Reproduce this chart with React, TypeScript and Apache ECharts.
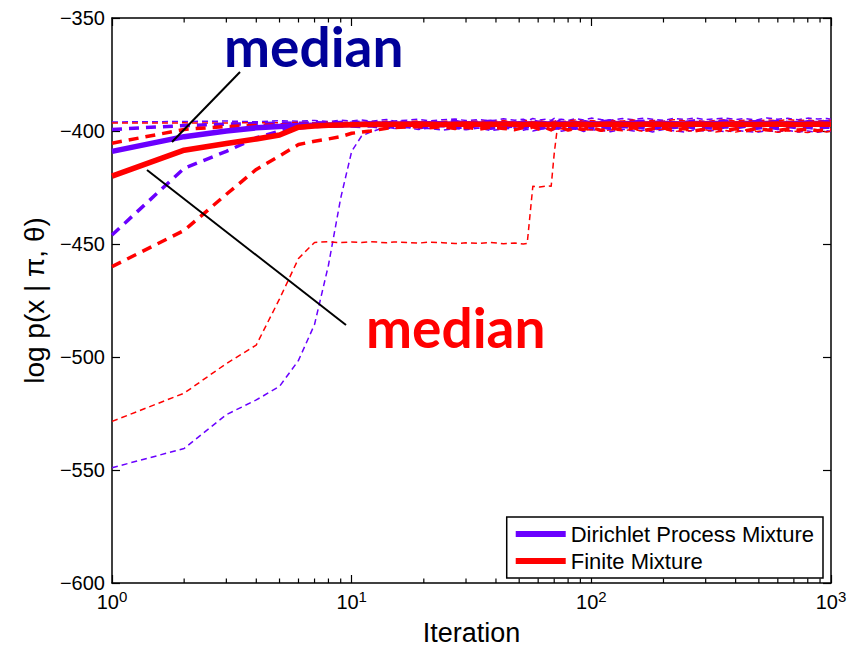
import React, { useEffect, useRef } from "react";
import * as echarts from "echarts";

// Iteration grid shared by every series (log-scaled x axis)
const iterations = [
  1, 2, 3, 4, 5, 6, 7, 8, 9, 10,
  11, 12, 13, 14, 15, 17, 19, 21, 24, 27,
  30, 34, 38, 43, 48, 52, 54, 57, 61, 65,
  68, 70, 72, 75, 80, 86, 93, 100, 110, 120,
  135, 150, 165, 180, 200, 220, 245, 270, 300, 330,
  365, 400, 440, 490, 540, 600, 660, 730, 800, 880,
  960, 1000,
];

// Dirichlet Process Mixture (purple)
const dpmMedian = [
  -409, -402.5, -400, -398.6, -398, -397.6, -397.4, -397.3, -397.2, -397.1,
  -397, -397, -396.9, -397, -396.9, -397, -396.9, -396.8, -397, -396.9,
  -396.8, -396.9, -397, -396.8, -396.9, -396.8, -396.9, -396.8, -396.7, -396.9,
  -396.8, -396.9, -396.8, -396.7, -396.9, -396.8, -396.7, -396.8, -396.9, -396.7,
  -396.8, -396.7, -396.9, -396.8, -396.7, -396.8, -396.9, -396.7, -396.8, -396.7,
  -396.8, -396.9, -396.7, -396.8, -396.7, -396.8, -396.9, -396.7, -396.8, -396.7,
  -396.8, -396.8,
];
const dpmLower = [
  -446, -416.5, -409, -403, -400, -398.7, -398, -397.8, -397.7, -397.8,
  -398.1, -397.7, -398.3, -397.9, -398.4, -397.8, -398.6, -398, -397.6, -398.5,
  -398.2, -397.7, -398.8, -398.1, -397.9, -398.6, -398.2, -397.8, -398.9, -398.1,
  -397.6, -398.4, -398.7, -397.9, -398.3, -398.8, -397.8, -398.5, -398.1, -398.9,
  -397.9, -398.6, -398.2, -399, -398, -398.5, -397.8, -398.7, -398.3, -399,
  -398.1, -398.6, -397.9, -398.8, -398.2, -398.9, -398, -398.6, -398.4, -398.9,
  -398.2, -398.5,
];
const dpmUpper = [
  -399.3, -397.6, -397, -396.7, -396.5, -396.6, -396.3, -396.5, -396.2, -396.6,
  -396, -396.5, -396.1, -396.7, -395.9, -396.4, -396.8, -396, -396.5, -395.8,
  -396.6, -396.1, -395.7, -396.4, -396.9, -396, -396.5, -395.6, -396.3, -396.8,
  -395.9, -396.4, -396.1, -395.6, -396.7, -396.2, -395.8, -396.5, -396, -395.5,
  -396.6, -396.1, -395.7, -396.4, -395.9, -396.8, -396.2, -395.6, -396.5, -396,
  -395.6, -396.3, -396.7, -395.8, -396.4, -395.7, -396.2, -396.8, -395.9, -396.3,
  -395.8, -396.1,
];
const dpmMin = [
  -549, -540.5, -525.5, -519, -513, -501.5, -485.6, -459.4, -429.7, -409,
  -402.2, -400.5, -399.2, -398.7, -398.9, -398.5, -399.3, -398.8, -399.6, -398.9,
  -399.4, -398.7, -399.8, -399.1, -398.6, -399.7, -399.2, -400, -399.3, -398.8,
  -399.9, -399.4, -398.9, -400.1, -399.5, -398.9, -400.2, -399.4, -399.8, -400.3,
  -399.2, -400, -399.6, -400.4, -399.3, -399.9, -400.5, -399.5, -400.1, -399.7,
  -400.4, -399.6, -400.2, -400.6, -399.8, -400.3, -399.7, -400.5, -400, -400.6,
  -399.9, -400.2,
];
const dpmMax = [
  -396, -395.8, -395.6, -395.9, -395.4, -395.7, -395.3, -395.8, -395.2, -395.6,
  -395.1, -395.7, -395.3, -394.9, -395.6, -395.2, -394.8, -395.5, -395, -394.7,
  -395.4, -394.9, -395.6, -394.6, -395.2, -394.8, -395.5, -394.5, -395.1, -394.7,
  -395.3, -394.4, -395, -394.8, -395.4, -394.5, -395.1, -394.3, -394.9, -395.2,
  -394.5, -395, -394.3, -394.8, -395.3, -394.4, -394.9, -394.2, -395, -394.6,
  -394.3, -394.9, -394.5, -395.1, -394.2, -394.8, -394.4, -395, -394.3, -394.7,
  -394.5, -394.8,
];

// Finite Mixture (red)
const finMedian = [
  -420, -408.5, -405.5, -403.5, -401.8, -398.3, -397.8, -397.5, -397.3, -397.2,
  -397.1, -397.1, -397, -397.1, -397, -397, -396.9, -397, -397.1, -397,
  -396.9, -397, -397.1, -396.9, -397, -397.1, -397, -396.9, -397, -397.1,
  -397, -396.9, -397, -397.1, -397, -396.9, -397, -397.1, -397, -396.9,
  -397, -397.1, -397, -396.9, -397, -397.1, -397, -396.9, -397, -397.1,
  -397, -396.9, -397, -397.1, -397, -396.9, -397, -397.1, -397, -396.9,
  -397, -397,
];
const finLower = [
  -460, -444, -428, -417, -411, -406, -404.5, -403.5, -402.5, -401,
  -400.5, -400, -399.4, -398.8, -398.5, -398.2, -398, -398.6, -398.1, -398.9,
  -398.4, -399.2, -398.3, -398.9, -399.4, -398.5, -399, -398.2, -399.3, -398.7,
  -399.5, -398.6, -399.1, -398.4, -399.6, -398.8, -399.2, -398.5, -399.7, -398.9,
  -399.3, -398.6, -399.8, -399, -398.7, -399.5, -398.9, -399.9, -399.1, -398.8,
  -399.6, -399, -399.9, -398.9, -399.4, -399.8, -399.1, -399.6, -399.2, -399.9,
  -399.3, -399.5,
];
const finUpper = [
  -405.4, -399.3, -398, -397.6, -397.3, -397.1, -396.9, -397.2, -396.8, -397.1,
  -396.6, -397.2, -396.9, -396.5, -397.3, -396.8, -396.4, -397.1, -396.7, -397.4,
  -396.5, -397, -396.3, -397.2, -396.8, -396.4, -397.3, -396.6, -396.2, -397,
  -396.7, -397.3, -396.4, -396.9, -397.4, -396.5, -397, -396.3, -397.2, -396.8,
  -396.4, -397.1, -396.7, -397.4, -396.3, -396.9, -397.2, -396.5, -397, -396.6,
  -397.3, -396.4, -396.9, -397.2, -396.6, -397.1, -396.3, -396.8, -397.3, -396.7,
  -397, -396.8,
];
const finMin = [
  -528.5, -516, -502.9, -494.7, -474.3, -456.4, -449.3, -449, -449.4, -449.1,
  -449.3, -449, -449.2, -449.5, -449.1, -449.3, -449.6, -449.2, -449.4, -449.8,
  -449.5, -449.7, -449.3, -449.9, -449.6, -450, -449.8, -424.5, -424.8, -424.3,
  -424.4, -410, -399.3, -398.9, -399.6, -399.1, -399.8, -399.3, -400, -399.4,
  -399.9, -399.2, -400.2, -399.5, -399.1, -400.3, -399.7, -400.1, -399.4, -400.4,
  -399.8, -400.5, -399.6, -400.2, -399.7, -400.6, -399.9, -400.3, -400.7, -399.9,
  -400.4, -400.1,
];
const finMax = [
  -396.5, -396.4, -396.5, -396.3, -396.4, -396.2, -396.4, -396.1, -396.3, -396,
  -396.2, -395.8, -396.1, -395.7, -396.3, -395.9, -395.6, -396.2, -395.8, -395.5,
  -396, -395.6, -395.9, -395.4, -396.1, -395.7, -395.3, -395.9, -395.5, -396,
  -395.4, -395.8, -395.2, -395.9, -395.5, -395.1, -395.7, -395.3, -395.9, -395.4,
  -395.6, -395.1, -395.8, -395.3, -395.7, -395, -395.5, -395.2, -395.8, -395.3,
  -395, -395.6, -395.2, -395.7, -395.1, -395.5, -394.9, -395.4, -395.1, -395.6,
  -395.2, -395.4,
];

const yTicks = [-600, -550, -500, -450, -400, -350];
const xMinorTicks = [2, 3, 4, 5, 6, 7, 8, 9, 20, 30, 40, 50, 60, 70, 80, 90, 200, 300, 400, 500, 600, 700, 800, 900];
const legendNames = ["Dirichlet Process Mixture", "Finite Mixture"];
const annotationText = "median";

const BLUE = "#6a00ff";
const RED = "#ff0000";
const FONT = "'Liberation Sans', Arial, sans-serif";
const ANNOT_FONT = "Lato, 'Open Sans', sans-serif";

function mk(name: string, vals: number[], color: string, width: number, dash: any, z: number) {
  return {
    type: "line",
    name,
    data: iterations.map((it, i) => [it, vals[i]]),
    symbol: "none",
    showSymbol: false,
    silent: true,
    z,
    itemStyle: { color },
    lineStyle: { color, width, type: dash, cap: "butt", join: "round" },
  };
}

export default function App() {
  const ref = useRef<HTMLDivElement>(null);
  useEffect(() => {
    if (!ref.current) return;
    const chart = echarts.init(ref.current, null, { renderer: "svg" });
    const thin = [6, 4];
    const thick = [10, 7];
    const yMin = yTicks[0];
    const yMax = yTicks[yTicks.length - 1];
    const axisCommon = {
      type: "log",
      logBase: 10,
      min: 1,
      max: 1000,
      axisLine: { show: true, onZero: false, lineStyle: { color: "#000", width: 1.5 } },
      axisTick: { show: true, inside: true, length: 8, lineStyle: { color: "#000", width: 1.2 } },
      minorTick: { show: false },
      splitLine: { show: false },
      minorSplitLine: { show: false },
    };
    const yCommon = {
      type: "value",
      min: yMin,
      max: yMax,
      interval: 50,
      axisLine: { show: true, onZero: false, lineStyle: { color: "#000", width: 1.5 } },
      axisTick: { show: true, inside: true, length: 8, lineStyle: { color: "#000", width: 1.2 } },
      splitLine: { show: false },
    };
    chart.setOption({
      animation: false,
      backgroundColor: "#fff",
      grid: { left: 112, right: 21, top: 18, bottom: 64, containLabel: false },
      xAxis: [
        {
          ...axisCommon,
          position: "bottom",
          name: "Iteration",
          nameLocation: "middle",
          nameGap: 36,
          nameTextStyle: { fontFamily: FONT, fontSize: 27, color: "#000", verticalAlign: "top" },
          axisLabel: {
            margin: 6,
            formatter: (v: number) => `{b|10}{s|${Math.round(Math.log10(v))}}`,
            rich: {
              b: { fontFamily: FONT, fontSize: 20, color: "#000", lineHeight: 22 },
              s: { fontFamily: FONT, fontSize: 15, color: "#000", padding: [0, 0, 11, 0] },
            },
          },
        },
        { ...axisCommon, position: "top", axisLabel: { show: false } },
      ],
      yAxis: [
        {
          ...yCommon,
          position: "left",
          name: "log p(x | \u03c0, \u03b8)",
          nameLocation: "middle",
          nameRotate: 90,
          nameGap: 64,
          nameTextStyle: { fontFamily: FONT, fontSize: 28, color: "#000" },
          axisLabel: {
            margin: 7,
            fontFamily: FONT,
            fontSize: 20,
            color: "#000",
            formatter: (v: number) => String(v).replace("-", "\u2212"),
          },
        },
        { ...yCommon, position: "right", axisLabel: { show: false } },
      ],
      legend: {
        data: legendNames.map((n) => ({ name: n, icon: "rect" })),
        orient: "vertical",
        right: 29,
        bottom: 73,
        itemWidth: 50,
        itemHeight: 6,
        itemGap: 5,
        padding: [6, 9, 6, 9],
        backgroundColor: "#fff",
        borderColor: "#000",
        borderWidth: 1.5,
        textStyle: { fontFamily: FONT, fontSize: 22, color: "#000" },
        selectedMode: false,
      },
      series: [
        {
          type: "custom",
          name: "minorTicks",
          silent: true,
          clip: false,
          z: 10,
          data: xMinorTicks.map((v) => [v, yMin]),
          encode: { x: 0, y: 1 },
          renderItem: (_params: any, api: any) => {
            const v = api.value(0);
            const b = api.coord([v, yMin]);
            const t = api.coord([v, yMax]);
            const st = { stroke: "#000", lineWidth: 1.2 };
            return {
              type: "group",
              children: [
                { type: "line", shape: { x1: b[0], y1: b[1], x2: b[0], y2: b[1] - 4.5 }, style: st },
                { type: "line", shape: { x1: t[0], y1: t[1], x2: t[0], y2: t[1] + 4.5 }, style: st },
              ],
            };
          },
        },
        mk("dpmMin", dpmMin, BLUE, 1.5, thin, 2),
        mk("finMin", finMin, RED, 1.5, thin, 2),
        mk("dpmMax", dpmMax, BLUE, 1.5, thin, 2),
        mk("finMax", finMax, RED, 1.5, thin, 2),
        mk("dpmLower", dpmLower, BLUE, 3.5, thick, 3),
        mk("finLower", finLower, RED, 3.5, thick, 3),
        mk("dpmUpper", dpmUpper, BLUE, 3.5, thick, 3),
        mk("finUpper", finUpper, RED, 3.5, thick, 3),
        mk(legendNames[0], dpmMedian, BLUE, 5.5, "solid", 4),
        mk(legendNames[1], finMedian, RED, 5.5, "solid", 5),
      ],
      graphic: [
        { type: "line", z: 100, shape: { x1: 240, y1: 72, x2: 172, y2: 142 }, style: { stroke: "#000", lineWidth: 2 } },
        { type: "line", z: 100, shape: { x1: 147, y1: 170, x2: 346, y2: 325 }, style: { stroke: "#000", lineWidth: 2 } },
        {
          type: "text", z: 100, x: 224, y: 46,
          style: { text: annotationText, fill: "#000099", fontSize: 55, fontWeight: "bold", fontFamily: ANNOT_FONT, verticalAlign: "middle" },
        },
        {
          type: "text", z: 100, x: 366, y: 327,
          style: { text: annotationText, fill: RED, fontSize: 55, fontWeight: "bold", fontFamily: ANNOT_FONT, verticalAlign: "middle" },
        },
      ],
    });
    return () => chart.dispose();
  }, []);
  return <div ref={ref} style={{ position: "fixed", left: 0, top: 0, width: 852, height: 651 }} />;
}
